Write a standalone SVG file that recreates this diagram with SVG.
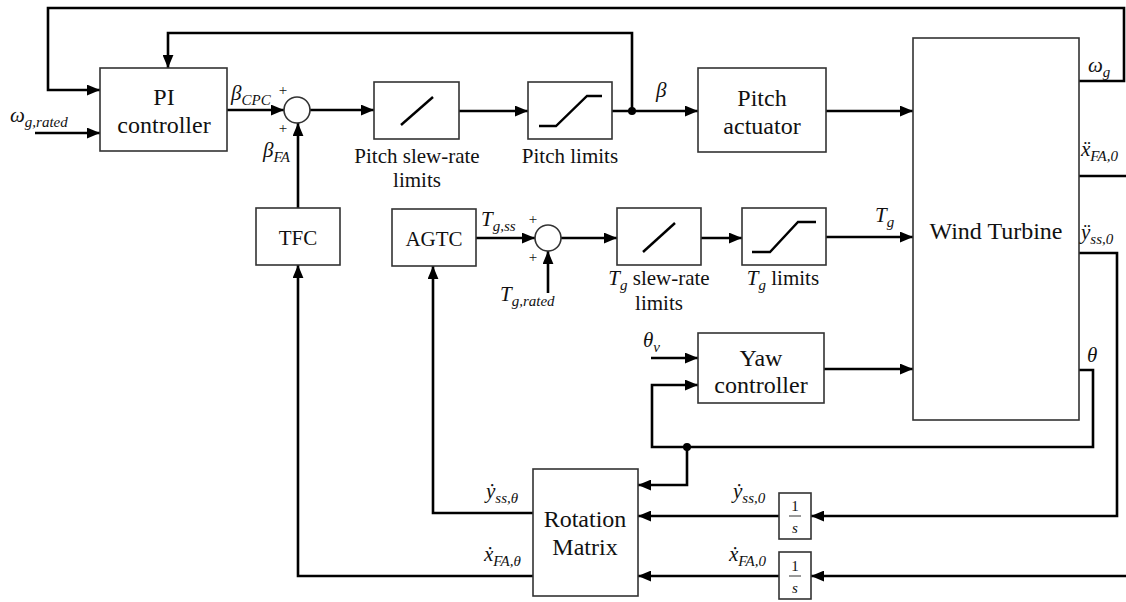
<svg xmlns="http://www.w3.org/2000/svg" width="1126" height="602" viewBox="0 0 1126 602">
<defs>
<marker id="ah" viewBox="0 0 12 10" refX="12" refY="5" markerWidth="13" markerHeight="11" markerUnits="userSpaceOnUse" orient="auto"><path d="M0,0 L12,5 L0,10 z" fill="#000"/></marker>
<style>
.box{fill:#fff;stroke:#333;stroke-width:1.6}
.c{fill:none;stroke:#000;stroke-width:2.6;stroke-linejoin:miter}
.a{marker-end:url(#ah)}
.blk{font-family:"Liberation Serif",serif;font-size:24px;fill:#111;text-anchor:middle}
.s{font-family:"Liberation Serif",serif;font-size:21px;fill:#111;text-anchor:middle}
.m{font-family:"Liberation Serif",serif;font-size:21px;font-style:italic;fill:#111}
.sub{font-size:15px}
.p{font-family:"Liberation Serif",serif;font-size:15px;fill:#111;text-anchor:middle}
.g{fill:none;stroke:#000;stroke-width:2.4}
</style>
</defs>
<g id="connectors">
<path class="c a" d="M1079,81 H1124 V8 H48 V90 H100"/>
<path class="c a" d="M632,111 V33 H168 V68"/>
<path class="c a" d="M35,133 H100"/>
<path class="c a" d="M227,110 H284"/>
<path class="c a" d="M298,208 V123"/>
<path class="c a" d="M310,110 H374"/>
<path class="c a" d="M459,111 H528"/>
<path class="c a" d="M612,111 H698"/>
<circle cx="632" cy="111" r="4" fill="#000"/>
<path class="c a" d="M826,111 H913"/>
<path class="c a" d="M476,238 H535"/>
<path class="c a" d="M548,293 V251"/>
<path class="c a" d="M561,238 H617"/>
<path class="c a" d="M701,238 H742"/>
<path class="c a" d="M826,237 H913"/>
<path class="c a" d="M651,358 H698"/>
<path class="c a" d="M824,369 H913"/>
<path class="c a" d="M1079,370 H1093 V447 H652 V385 H698"/>
<circle cx="687" cy="447" r="4" fill="#000"/>
<path class="c a" d="M687,447 V485 H638"/>
<path class="c a" d="M1079,253 H1117 V516 H811"/>
<path class="c" d="M1079,176 H1126"/>
<path class="c a" d="M1126,576 H811"/>
<path class="c a" d="M779,516 H638"/>
<path class="c a" d="M779,576 H638"/>
<path class="c a" d="M533,513 H433 V266"/>
<path class="c a" d="M533,576 H298 V265"/>
</g>
<g id="pi">
<rect class="box" x="100" y="68" width="127" height="83"/>
<text class="blk" x="164" y="105" font-family="Liberation Serif">PI</text>
<text class="blk" x="164" y="133" font-family="Liberation Serif">controller</text>
</g>
<g id="sum1">
<circle cx="297" cy="110" r="13" fill="#fff" stroke="#333" stroke-width="1.6"/>
<text class="p" x="283" y="95">+</text>
<text class="p" x="283" y="133">+</text>
</g>
<g id="pitch-slew">
<rect class="box" x="374" y="82" width="85" height="57"/>
<line class="g" x1="401" y1="125" x2="433" y2="97"/>
<text class="s" x="417" y="163">Pitch slew-rate</text>
<text class="s" x="417" y="187">limits</text>
</g>
<g id="pitch-limits">
<rect class="box" x="528" y="82" width="84" height="57"/>
<polyline class="g" points="539,126 556,126 587,96 602,96"/>
<text class="s" x="570" y="163">Pitch limits</text>
</g>
<g id="pitch-actuator">
<rect class="box" x="698" y="68" width="128" height="84"/>
<text class="blk" x="762" y="106">Pitch</text>
<text class="blk" x="762" y="134">actuator</text>
</g>
<g id="wind-turbine">
<rect class="box" x="913" y="38" width="166" height="382"/>
<text class="blk" x="996" y="239">Wind Turbine</text>
</g>
<g id="tfc">
<rect class="box" x="256" y="208" width="84" height="57"/>
<text class="blk" x="298" y="245" style="font-size:21px">TFC</text>
</g>
<g id="agtc">
<rect class="box" x="392" y="209" width="84" height="57"/>
<text class="blk" x="434" y="246" style="font-size:21px">AGTC</text>
</g>
<g id="sum2">
<circle cx="548" cy="238" r="13" fill="#fff" stroke="#333" stroke-width="1.6"/>
<text class="p" x="533" y="224">+</text>
<text class="p" x="533" y="262">+</text>
</g>
<g id="tg-slew">
<rect class="box" x="617" y="208" width="84" height="57"/>
<line class="g" x1="643" y1="252" x2="675" y2="223"/>
<text class="s" x="659" y="285"><tspan style="font-style:italic">T</tspan><tspan style="font-style:italic;font-size:15px" dy="5">g</tspan><tspan dy="-5"> slew-rate</tspan></text>
<text class="s" x="659" y="310">limits</text>
</g>
<g id="tg-limits">
<rect class="box" x="742" y="208" width="84" height="57"/>
<polyline class="g" points="752,252 770,252 798,222 816,222"/>
<text class="s" x="783" y="285"><tspan style="font-style:italic">T</tspan><tspan style="font-style:italic;font-size:15px" dy="5">g</tspan><tspan dy="-5"> limits</tspan></text>
</g>
<g id="yaw">
<rect class="box" x="698" y="333" width="126" height="70"/>
<text class="blk" x="761" y="366">Yaw</text>
<text class="blk" x="761" y="393">controller</text>
</g>
<g id="int1">
<rect class="box" x="779" y="493" width="32" height="46"/>
<text class="s" x="795" y="511" style="font-size:15px">1</text>
<line x1="789" y1="516" x2="801" y2="516" stroke="#333" stroke-width="1"/>
<text class="m" x="795" y="533" style="font-size:15px;text-anchor:middle">s</text>
</g>
<g id="int2">
<rect class="box" x="779" y="552" width="32" height="47"/>
<text class="s" x="795" y="571" style="font-size:15px">1</text>
<line x1="789" y1="576" x2="801" y2="576" stroke="#333" stroke-width="1"/>
<text class="m" x="795" y="593" style="font-size:15px;text-anchor:middle">s</text>
</g>
<g id="rotation-matrix">
<rect class="box" x="533" y="469" width="105" height="127"/>
<text class="blk" x="585" y="527">Rotation</text>
<text class="blk" x="585" y="555">Matrix</text>
</g>
<g id="labels">
<text class="m" x="10" y="122">ω<tspan class="sub" dy="5">g,rated</tspan></text>
<text class="m" x="231" y="100">β<tspan class="sub" dy="5">CPC</tspan></text>
<text class="m" x="263" y="157">β<tspan class="sub" dy="5">FA</tspan></text>
<text class="m" x="656" y="97">β</text>
<text class="m" x="1088" y="72">ω<tspan class="sub" dy="5">g</tspan></text>
<text class="m" x="1081" y="156">ẍ<tspan class="sub" dy="5">FA,0</tspan></text>
<text class="m" x="1081" y="239">ÿ<tspan class="sub" dy="5">ss,0</tspan></text>
<text class="m" x="1087" y="362">θ</text>
<text class="m" x="481" y="226">T<tspan class="sub" dy="5">g,ss</tspan></text>
<text class="m" x="500" y="301">T<tspan class="sub" dy="5">g,rated</tspan></text>
<text class="m" x="875" y="222">T<tspan class="sub" dy="5">g</tspan></text>
<text class="m" x="643" y="347">θ<tspan class="sub" dy="5">v</tspan></text>
<text class="m" x="486" y="498">ẏ<tspan class="sub" dy="5">ss,θ</tspan></text>
<text class="m" x="484" y="561">ẋ<tspan class="sub" dy="5">FA,θ</tspan></text>
<text class="m" x="733" y="498">ẏ<tspan class="sub" dy="5">ss,0</tspan></text>
<text class="m" x="729" y="561">ẋ<tspan class="sub" dy="5">FA,0</tspan></text>
</g>
</svg>
